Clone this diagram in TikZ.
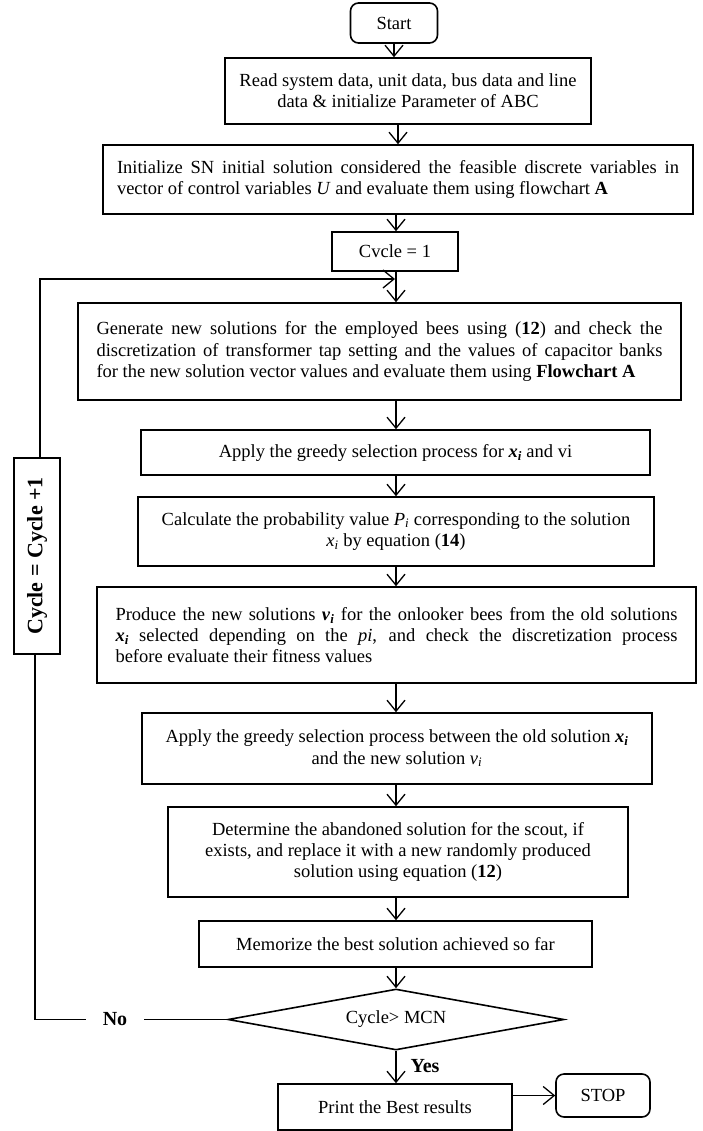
\documentclass[tikz,border=0pt]{standalone}
\usepackage{fontspec}
\setmainfont{Liberation Serif}
\usetikzlibrary{arrows.meta,shapes.geometric}
\begin{document}
\begin{tikzpicture}[x=1pt,y=-1pt,
  font=\fontsize{18.5}{21.3}\selectfont,
  box/.style={draw,line width=1.6pt,inner sep=0pt,align=center},
  rbox/.style={box,rounded corners=8pt},
  arr/.style={line width=1.3pt,-{Straight Barb[length=11pt,width=18pt,line width=1.3pt]}},
  ln/.style={line width=1.3pt},
  lbl/.style={font=\fontsize{20}{24}\selectfont\bfseries,inner sep=0pt}]
\useasboundingbox (0,0) rectangle (702,1131);

\node[rbox,minimum width=87pt,minimum height=40pt] (start) at (394,23) {Start};
\node[box,minimum width=366pt,minimum height=66pt] (read) at (408,91) {Read system data, unit data, bus data and line\\data \& initialize Parameter of ABC};
\node[box,minimum width=590pt,minimum height=69pt,text width=562pt,align=justify] (init) at (398,179.5) {Initialize SN initial solution considered the feasible discrete variables in\linebreak vector of control variables \textit{U} and evaluate them using flowchart \textbf{A}};
\node[box,minimum width=126pt,minimum height=39pt] (cyc) at (395,251.5) {Cvcle = 1};
\node[box,minimum width=603pt,minimum height=97pt,text width=566pt,align=justify] (gen) at (379.5,351.5) {Generate new solutions for the employed bees using (\textbf{12}) and check the\linebreak discretization of transformer tap setting and the values of capacitor banks\linebreak for the new solution vector values and evaluate them using \textbf{Flowchart A}};
\node[box,minimum width=509pt,minimum height=45pt] (app) at (395.5,452.5) {Apply the greedy selection process for \textbf{\textit{x}\textsubscript{\textit{i}}} and vi};
\node[box,minimum width=516pt,minimum height=69pt] (calc) at (396,531.5) {Calculate the probability value \textit{P}\textsubscript{\textit{i}} corresponding to the solution\\\textit{x}\textsubscript{\textit{i}} by equation (\textbf{14})};
\node[box,minimum width=599pt,minimum height=96pt,text width=562pt,align=justify] (prod) at (396.5,635) {Produce the new solutions \textbf{\textit{v}\textsubscript{\textit{i}}} for the onlooker bees from the old solutions\linebreak \textbf{\textit{x}\textsubscript{\textit{i}}} selected depending on the \textit{pi}, and check the discretization process\linebreak before evaluate their fitness values};
\node[box,minimum width=510pt,minimum height=71pt] (apb) at (397,748.5) {Apply the greedy selection process between the old solution \textbf{\textit{x}\textsubscript{\textit{i}}}\\and the new solution \textit{v}\textsubscript{\textit{i}}};
\node[box,minimum width=460pt,minimum height=90pt] (det) at (398,852) {Determine the abandoned solution for the scout, if\\exists, and replace it with a new randomly produced\\solution using equation (\textbf{12})};
\node[box,minimum width=393pt,minimum height=46pt] (mem) at (395.5,944) {Memorize the best solution achieved so far};
\node[draw,line width=1.6pt,diamond,aspect=5.5,inner sep=0pt,minimum width=336pt,minimum height=61pt] (dia) at (396,1019.5) {Cycle> MCN};
\node[box,minimum width=234pt,minimum height=46pt] (prt) at (395,1107) {Print the Best results};
\node[rbox,minimum width=94pt,minimum height=43pt] (stop) at (603,1095.5) {STOP};
\node[box,rotate=90,minimum width=196pt,minimum height=46pt,font=\fontsize{22}{26}\selectfont\bfseries] (cinc) at (37,556) {Cycle = Cycle +1};
\node[lbl,inner xsep=17pt] (no) at (115,1019.5) {No};
\node[lbl] (yes) at (425,1066) {Yes};

\coordinate (ax) at (396,0);
\coordinate (lt) at (40,279);
\coordinate (lb) at (35,1019.5);

\draw[arr] (start.south) -- (start.south |- read.north);
\draw[arr] (read.south -| init.north) -- (init.north);
\draw[arr] (init.south -| ax) -- (cyc.north -| ax);
\draw[arr] (cyc.south -| ax) -- (gen.north -| ax);
\draw[arr] (gen.south -| ax) -- (app.north -| ax);
\draw[arr] (app.south -| ax) -- (calc.north -| ax);
\draw[arr] (calc.south -| ax) -- (prod.north -| ax);
\draw[arr] (prod.south -| ax) -- (apb.north -| ax);
\draw[arr] (apb.south -| ax) -- (det.north -| ax);
\draw[arr] (det.south -| ax) -- (mem.north -| ax);
\draw[arr] (mem.south -| ax) -- (dia.north);
\draw[arr] (dia.south) -- (prt.north -| dia.south);
\draw[arr] (prt.east |- stop.west) -- (stop.west);

\draw[ln] (dia.west) -- (no.east);
\draw[ln] (no.west) -- (lb) -- (lb |- cinc.west);
\draw[arr] (lt |- cinc.east) -- (lt) -- (lt -| cyc.south);
\end{tikzpicture}
\end{document}
